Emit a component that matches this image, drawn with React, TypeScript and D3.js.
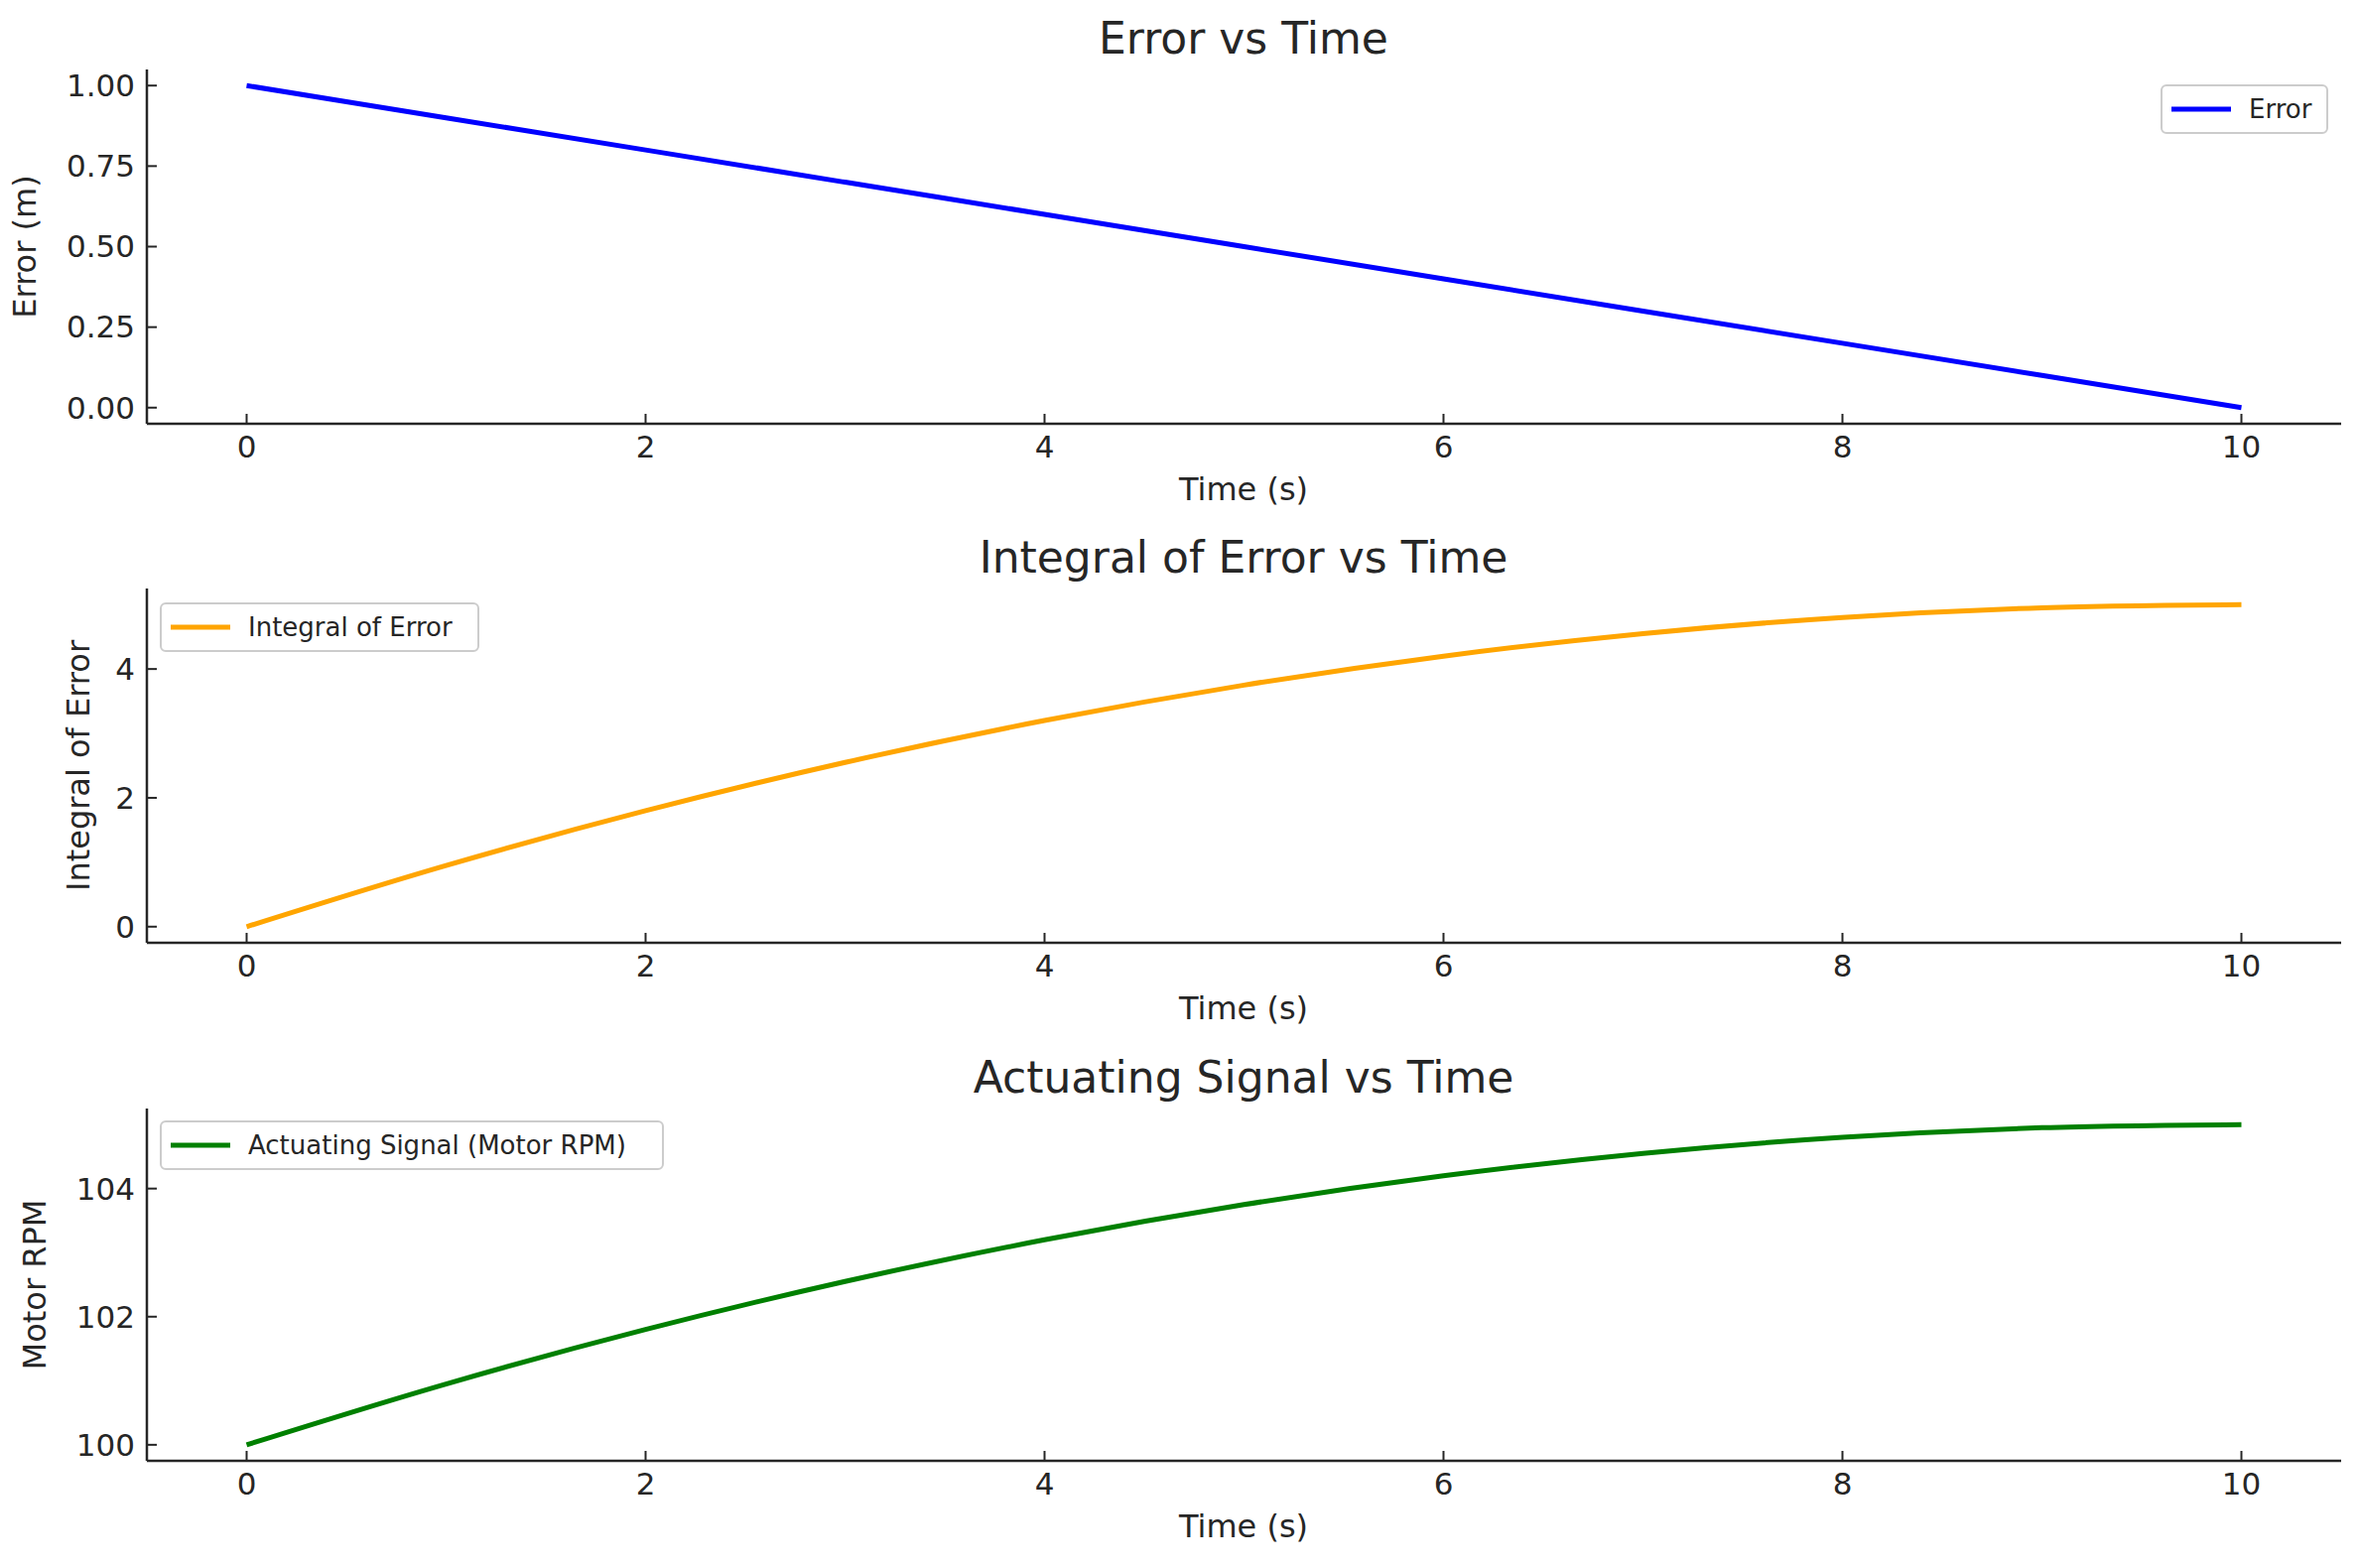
import React from "react";
import * as d3 from "d3";

// data
const timeS = [0, 1, 2, 3, 4, 5, 6, 7, 8, 9, 10];
const errorM = [1.0, 0.9, 0.8, 0.7, 0.6, 0.5, 0.4, 0.3, 0.2, 0.1, 0.0];
const integralErr = [0, 0.95, 1.8, 2.55, 3.2, 3.75, 4.2, 4.55, 4.8, 4.95, 5.0];
const motorRpm = [100, 100.95, 101.8, 102.55, 103.2, 103.75, 104.2, 104.55, 104.8, 104.95, 105.0];
const xTicks = [0, 2, 4, 6, 8, 10];
const errTicks = [0, 0.25, 0.5, 0.75, 1.0];
const intTicks = [0, 2, 4];
const rpmTicks = [100, 102, 104];

const W = 2379, H = 1580;
const FONT = "DejaVu Sans, sans-serif";
const TXT = "#262626";

type Panel = {
  title: string; ylab: string; values: number[]; ticks: number[]; fmt: (v: number) => string;
  color: string; top: number; bottom: number; legend: string; legendX: number; legendW: number; legendY: number;
};

const panels: Panel[] = [
  { title: "Error vs Time", ylab: "Error (m)", values: errorM, ticks: errTicks, fmt: d3.format(".2f"),
    color: "#0000ff", top: 70, bottom: 427, legend: "Error", legendX: 2178, legendW: 167, legendY: 86 },
  { title: "Integral of Error vs Time", ylab: "Integral of Error", values: integralErr, ticks: intTicks, fmt: d3.format("d"),
    color: "#ffa500", top: 593, bottom: 950, legend: "Integral of Error", legendX: 162, legendW: 320, legendY: 608 },
  { title: "Actuating Signal vs Time", ylab: "Motor RPM", values: motorRpm, ticks: rpmTicks, fmt: d3.format("d"),
    color: "#008000", top: 1117, bottom: 1472, legend: "Actuating Signal (Motor RPM)", legendX: 162, legendW: 506, legendY: 1130 },
];

export default function App() {
  const ref = React.useRef<SVGSVGElement>(null);

  React.useEffect(() => {
    document.body.style.margin = "0";
    const svg = d3.select(ref.current);
    svg.selectAll("*").remove();
    const left = 148, right = 2359;
    const x = d3.scaleLinear().domain([-0.5, 10.5]).range([left, right]);

    panels.forEach((p) => {
      const [lo, hi] = d3.extent(p.values) as [number, number];
      const pad = (hi - lo) * 0.05;
      const y = d3.scaleLinear().domain([lo - pad, hi + pad]).range([p.bottom, p.top]);
      const g = svg.append("g");

      const line = d3.line<number>()
        .x((_, i) => x(timeS[i]))
        .y((d) => y(d))
        .curve(d3.curveMonotoneX);
      g.append("path").datum(p.values).attr("d", line)
        .attr("fill", "none").attr("stroke", p.color).attr("stroke-width", 5);

      // spines
      g.append("line").attr("x1", left).attr("x2", left).attr("y1", p.top).attr("y2", p.bottom)
        .attr("stroke", TXT).attr("stroke-width", 2.5);
      g.append("line").attr("x1", left).attr("x2", right).attr("y1", p.bottom).attr("y2", p.bottom)
        .attr("stroke", TXT).attr("stroke-width", 2.5);

      // x ticks (inward)
      xTicks.forEach((t) => {
        g.append("line").attr("x1", x(t)).attr("x2", x(t)).attr("y1", p.bottom).attr("y2", p.bottom - 10)
          .attr("stroke", TXT).attr("stroke-width", 2);
        g.append("text").attr("x", x(t)).attr("y", p.bottom + 34).attr("text-anchor", "middle")
          .attr("font-family", FONT).attr("font-size", 31).attr("fill", TXT).text(t);
      });
      p.ticks.forEach((t) => {
        g.append("line").attr("x1", left).attr("x2", left + 10).attr("y1", y(t)).attr("y2", y(t))
          .attr("stroke", TXT).attr("stroke-width", 2);
        g.append("text").attr("x", left - 12).attr("y", y(t)).attr("dy", "0.35em").attr("text-anchor", "end")
          .attr("font-family", FONT).attr("font-size", 31).attr("fill", TXT).text(p.fmt(t));
      });

      g.append("text").attr("x", 1253).attr("y", p.bottom + 77).attr("text-anchor", "middle")
        .attr("font-family", FONT).attr("font-size", 32).attr("fill", TXT).text("Time (s)");
      g.append("text").attr("x", 1253).attr("y", p.top - 16).attr("text-anchor", "middle")
        .attr("font-family", FONT).attr("font-size", 44).attr("fill", TXT).text(p.title);
      const yl = p.ylab === "Error (m)" ? 44 : p.ylab === "Motor RPM" ? 54 : 98;
      g.append("text").attr("transform", `translate(${yl - 8},${(p.top + p.bottom) / 2}) rotate(-90)`)
        .attr("text-anchor", "middle").attr("font-family", FONT).attr("font-size", 32).attr("fill", TXT).text(p.ylab);

      // legend
      g.append("rect").attr("x", p.legendX).attr("y", p.legendY).attr("width", p.legendW).attr("height", 48)
        .attr("rx", 5).attr("fill", "white").attr("fill-opacity", 0.8).attr("stroke", "#cccccc").attr("stroke-width", 2);
      g.append("line").attr("x1", p.legendX + 10).attr("x2", p.legendX + 70)
        .attr("y1", p.legendY + 24).attr("y2", p.legendY + 24).attr("stroke", p.color).attr("stroke-width", 5);
      g.append("text").attr("x", p.legendX + 88).attr("y", p.legendY + 24).attr("dy", "0.35em")
        .attr("font-family", FONT).attr("font-size", 26).attr("fill", TXT).text(p.legend);
    });
  }, []);

  return <svg ref={ref} width={W} height={H} style={{ display: "block", background: "white" }} />;
}
